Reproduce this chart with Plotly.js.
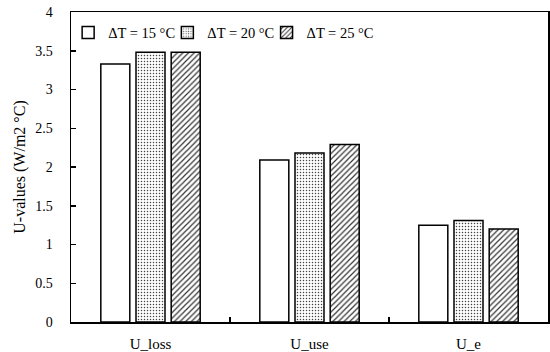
<!DOCTYPE html>
<html>
<head>
<meta charset="utf-8">
<script src="https://cdn.plot.ly/plotly-3.0.1.min.js"></script>
<style>html,body{margin:0;padding:0;background:#fff;}#chart{width:550px;height:352px;}</style>
</head>
<body>
<div id="chart"></div>
<script>
const categories = ["U_loss", "U_use", "U_e"];
const seriesNames = ["ΔT = 15 °C", "ΔT = 20 °C", "ΔT = 25 °C"];
const dT15 = [3.33, 2.09, 1.25];
const dT20 = [3.48, 2.18, 1.31];
const dT25 = [3.48, 2.29, 1.20];
const yTicks = [0, 0.5, 1, 1.5, 2, 2.5, 3, 3.5, 4];
const yTickLabels = ["0", "0.5", "1", "1.5", "2", "2.5", "3", "3.5", "4"];

const FONT = "Liberation Serif, serif";
const seriesValues = [dT15, dT20, dT25];
const legendIds = ["legend", "legend2", "legend3"];
const legendX = [-0.006, 0.202, 0.410];
const patterns = [
  {shape: ""},
  {shape: ".", fgcolor: "#444", bgcolor: "#fff", size: 3, solidity: 0.2, fillmode: "replace"},
  {shape: "/", fgcolor: "#333", bgcolor: "#fff", size: 4, solidity: 0.3, fillmode: "replace"}
];
const traces = seriesValues.map((vals, i) => ({
  type: "bar",
  name: seriesNames[i],
  x: categories,
  y: vals,
  legend: legendIds[i],
  marker: {
    color: "#fff",
    line: {color: "#000", width: 1.5},
    pattern: patterns[i]
  }
}));

const layout = {
  width: 550, height: 352,
  margin: {l: 71, r: 2, t: 12, b: 30},
  paper_bgcolor: "#fff", plot_bgcolor: "#fff",
  barmode: "group", bargap: 0.336, bargroupgap: 0.176,
  font: {family: FONT, color: "#000", size: 13},
  showlegend: true,
  xaxis: {
    type: "category",
    showline: true, linecolor: "#000", linewidth: 1.5, mirror: true,
    ticks: "inside", tickson: "boundaries", ticklen: 5, tickcolor: "#000", tickwidth: 1.5,
    tickfont: {family: FONT, size: 15, color: "#000"},
    ticklabelstandoff: 7,
    showgrid: false, zeroline: false
  },
  yaxis: {
    range: [0, 4],
    tickvals: yTicks, ticktext: yTickLabels,
    showline: true, linecolor: "#000", linewidth: 1.5, mirror: true,
    ticks: "inside", ticklen: 5, tickcolor: "#000", tickwidth: 1.5,
    tickfont: {family: FONT, size: 14, color: "#000"},
    ticklabelstandoff: 14,
    showgrid: false, zeroline: false,
    title: {text: "U-values (W/m2 °C)", font: {family: FONT, size: 16, color: "#000"}, standoff: 5}
  }
};
legendIds.forEach((id, i) => {
  layout[id] = {
    orientation: "h", x: legendX[i], y: 0.985, xanchor: "left", yanchor: "top",
    font: {family: FONT, size: 14.5, color: "#000"},
    bgcolor: "rgba(0,0,0,0)", itemwidth: 30
  };
});

Plotly.newPlot("chart", traces, layout, {displayModeBar: false, staticPlot: true});
</script>
</body>
</html>
